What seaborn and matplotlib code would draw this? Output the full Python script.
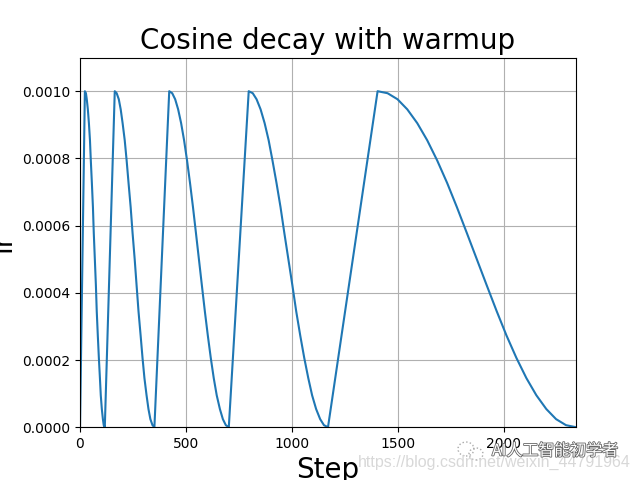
import matplotlib
matplotlib.use('Agg')
import matplotlib.pyplot as plt
import matplotlib.patheffects as pe
from matplotlib.patches import Ellipse
import seaborn as sns

lr_decay = [.001000, .000994, .000976, .000946, .000905, .000854, .000794, .000727, .000655, .000578, .000500,
            .000422, .000345, .000273, .000206, .000146, .000095, .000054, .000024, .000006, 0]

steps_1 = [0, 23, 28, 32, 37, 42, 47, 51, 56, 61, 65, 70, 75, 79, 84, 89, 94, 98, 103, 108, 112, 117]
steps_2 = [164, 173, 183, 192, 201, 211, 220, 229, 239, 248, 258, 267, 276, 286, 295, 304, 314, 323, 332, 342, 351]
steps_3 = [421, 435, 449, 463, 477, 491, 505, 519, 533, 547, 561, 575, 589, 603, 617, 631, 645, 660, 674, 688, 702]
steps_4 = [796, 815, 833, 852, 871, 890, 908, 927, 946, 964, 983, 1002, 1020, 1039, 1058, 1077, 1095, 1114, 1133, 1151, 1170]
steps_5 = [1404, 1451, 1498, 1544, 1591, 1638, 1685, 1732, 1778, 1825, 1872, 1919, 1966, 2012, 2059, 2106, 2153, 2200, 2246, 2293, 2340]

steps = steps_1 + steps_2 + steps_3 + steps_4 + steps_5
lr = [0] + lr_decay * 5

fig, ax = plt.subplots(figsize=(6.4, 4.8), dpi=100)
sns.lineplot(x=steps, y=lr, sort=False, estimator=None, errorbar=None, ax=ax)

ax.set_xlim(0, 2340)
ax.set_ylim(0, 0.0011)
ax.set_title('Cosine decay with warmup', fontsize=20)
ax.set_xlabel('Step', fontsize=20)
ax.set_ylabel('lr', fontsize=20)
ax.grid(True)

# watermark
fig.text(358 / 640, 1 - 462 / 480, 'https://blog.csdn.net/weixin_44791964', color='#d8d8d8',
         fontsize=11.5, family='Liberation Sans', va='center', ha='left')
fig.text(492 / 640, 1 - 451 / 480, 'AI人工智能初学者', color='white', fontsize=11.5,
         family=['Noto Sans CJK SC', 'DejaVu Sans'], va='center', ha='left',
         path_effects=[pe.withStroke(linewidth=1.2, foreground='#666666')])
for cx, cy, w, h in [(466, 449, 16, 14), (476, 454, 14, 12)]:
    fig.add_artist(Ellipse((cx / 640, 1 - cy / 480), w / 640, h / 480, fill=False,
                           edgecolor='#aaaaaa', linewidth=1, linestyle=':',
                           transform=fig.transFigure))

plt.savefig('out.png', dpi=100)
plt.close()
